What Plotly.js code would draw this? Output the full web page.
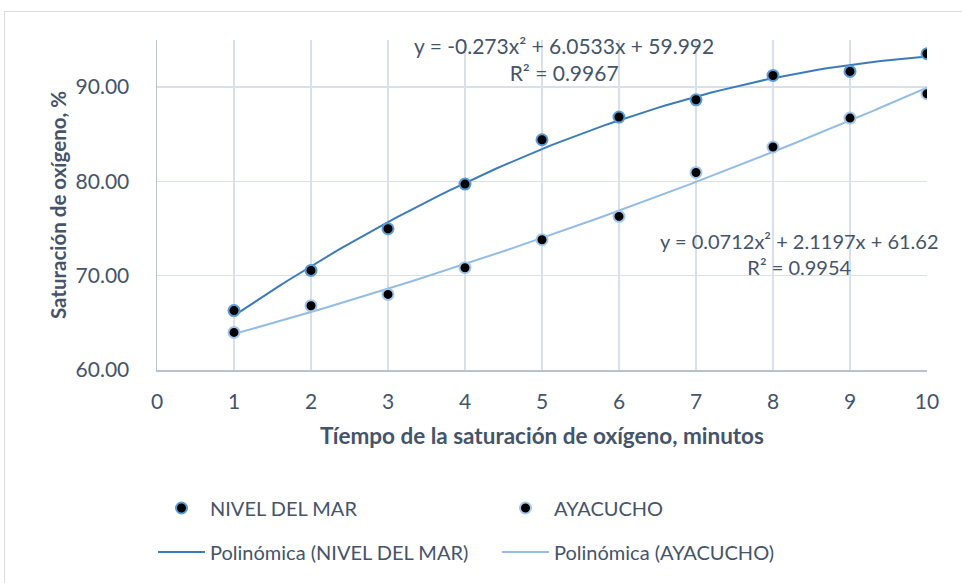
<!DOCTYPE html>
<html><head><meta charset="utf-8">
<script src="https://cdn.plot.ly/plotly-3.0.1.min.js"></script>
<style>
html,body{margin:0;padding:0;background:#fff;overflow:hidden}
#wrap{position:relative;width:962px;height:583px;overflow:hidden}
#chart{width:962px;height:583px}
#frame{position:absolute;left:4px;top:11px;width:1200px;height:900px;border-left:1px solid #d9dde3;border-top:1px solid #d9dde3;pointer-events:none}
</style></head><body>
<div id="wrap"><div id="chart"></div><div id="frame"></div></div>
<script>
// ---- data ----
const minutes = [1, 2, 3, 4, 5, 6, 7, 8, 9, 10];
const nivelDelMar = [66.3, 70.56, 74.98, 79.72, 84.42, 86.83, 88.66, 91.24, 91.67, 93.54];
const ayacucho = [63.99, 66.82, 68.02, 70.85, 73.82, 76.29, 80.95, 83.65, 86.72, 89.30];
// trendline coefficients printed on the chart [a, b, c] for a*x^2 + b*x + c
const coefNivel = [-0.273, 6.0533, 59.992];
const coefAyacucho = [0.0712, 2.1197, 61.62];
const eqNivel = 'y = -0.273x² + 6.0533x + 59.992<br>R² = 0.9967';
const eqAyacucho = 'y = 0.0712x² + 2.1197x + 61.62<br>R² = 0.9954';
const seriesNames = ['NIVEL DEL MAR', 'AYACUCHO'];
const trendNames = ['Polinómica (NIVEL DEL MAR)', 'Polinómica (AYACUCHO)'];
const xTitle = 'Tíempo de la saturación de oxígeno, minutos';
const yTitle = 'Saturación de oxígeno, %';

const TXT = '#44546a';
const FONT = 'Lato, "Open Sans", sans-serif';

function trend(coef) {
  const xs = [], ys = [];
  const x0 = Math.min(...minutes), x1 = Math.max(...minutes);
  for (let i = 0; i <= 90; i++) {
    const x = x0 + (x1 - x0) * i / 90;
    xs.push(x); ys.push(coef[0]*x*x + coef[1]*x + coef[2]);
  }
  return {xs, ys};
}
const tN = trend(coefNivel), tA = trend(coefAyacucho);

const traces = [
  {x: minutes, y: nivelDelMar, name: seriesNames[0], type: 'scatter', mode: 'markers',
   marker: {color: '#000', size: 11, line: {color: '#5b9bd5', width: 2}}, legend: 'legend'},
  {x: minutes, y: ayacucho, name: seriesNames[1], type: 'scatter', mode: 'markers',
   marker: {color: '#000', size: 11, line: {color: '#a3c6eb', width: 2}}, legend: 'legend'},
  {x: tN.xs, y: tN.ys, name: trendNames[0], type: 'scatter', mode: 'lines',
   line: {color: '#3d7cba', width: 2}, legend: 'legend2'},
  {x: tA.xs, y: tA.ys, name: trendNames[1], type: 'scatter', mode: 'lines',
   line: {color: '#93bde6', width: 2}, legend: 'legend2'}
];
// trend lines drawn below the markers
const data = [traces[2], traces[3], traces[0], traces[1]];

const legendCommon = {orientation: 'h', xref: 'container', yref: 'container', xanchor: 'left', yanchor: 'middle',
  x: 153/962, entrywidth: 282, entrywidthmode: 'pixels', itemwidth: 47, traceorder: 'normal',
  font: {family: FONT, size: 20, color: TXT}, bgcolor: 'rgba(0,0,0,0)'};

const layout = {
  width: 962, height: 583,
  margin: {l: 157, r: 35, t: 40, b: 213},
  paper_bgcolor: '#fff', plot_bgcolor: '#fff',
  font: {family: FONT, size: 20, color: TXT},
  showlegend: true,
  legend: Object.assign({}, legendCommon, {y: 1 - 508/583}),
  legend2: Object.assign({}, legendCommon, {y: 1 - 552/583}),
  xaxis: {range: [0, 10], tick0: 0, dtick: 1, showgrid: true, gridcolor: '#d9e0ea', gridwidth: 1.5,
    showline: true, linecolor: '#b7c2d0', linewidth: 1.5, zeroline: false, ticks: '', ticklabelstandoff: 12,
    tickfont: {family: FONT, size: 21, color: TXT},
    title: {text: xTitle, font: {family: FONT, size: 22.5, color: TXT, weight: 'bold'}, standoff: 16}},
  yaxis: {range: [60, 95], tick0: 60, dtick: 10, tickformat: '.2f', showgrid: true, gridcolor: '#d9e0ea', gridwidth: 1.5,
    showline: true, linecolor: '#b7c2d0', linewidth: 1.5, zeroline: false, ticks: '', ticklabelstandoff: 22,
    tickfont: {family: FONT, size: 21, color: TXT},
    title: {text: yTitle, font: {family: FONT, size: 20.5, color: TXT, weight: 'bold'}, standoff: 3}},
  annotations: [
    {xref: 'x', yref: 'y', x: 5.29, y: 92.96, text: eqNivel, showarrow: false, align: 'center',
     font: {family: FONT, size: 21, color: TXT}},
    {xref: 'x', yref: 'y', x: 8.35, y: 72.33, text: eqAyacucho, showarrow: false, align: 'center',
     font: {family: FONT, size: 20, color: TXT}}
  ]
};
Plotly.newPlot('chart', data, layout, {staticPlot: true, displayModeBar: false});
</script></body></html>
